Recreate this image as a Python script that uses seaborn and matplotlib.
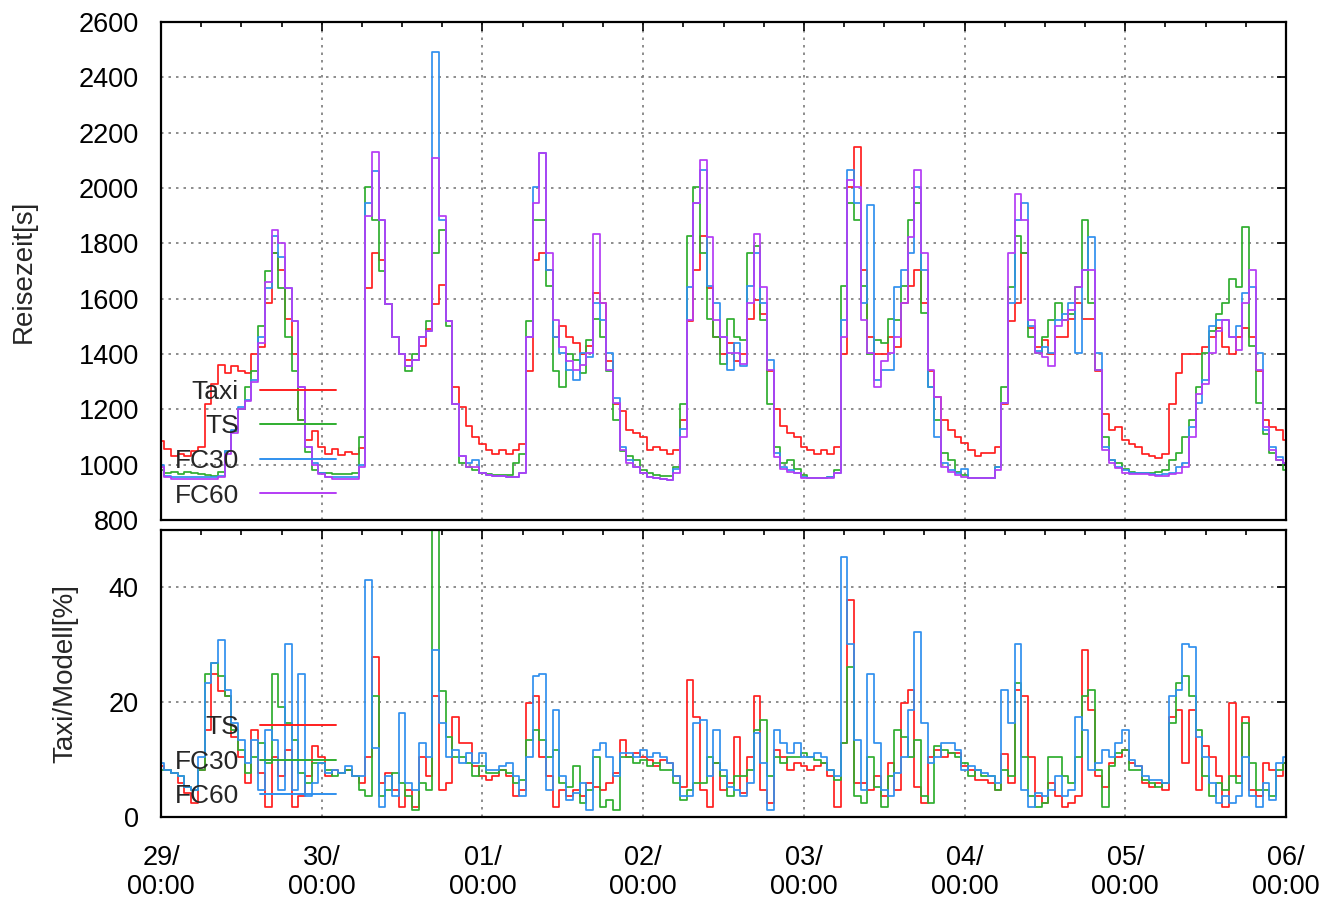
import matplotlib
matplotlib.use("Agg")
import matplotlib.pyplot as plt
import numpy as np
import pandas as pd
import seaborn as sns
from matplotlib.lines import Line2D
from matplotlib.ticker import MultipleLocator

# ---------------- data (hourly, 29/00:00 .. 06/00:00) ----------------
hours = list(range(169))
day_labels = ["29/", "30/", "01/", "02/", "03/", "04/", "05/", "06/"]
time_label = "00:00"

top_series = ["Taxi", "TS", "FC30", "FC60"]
bottom_series = ["TS", "FC30", "FC60"]

taxi = [1085, 1055, 1030, 1040, 1030, 1050, 1065, 1220, 1290, 1360, 1330, 1355, 1340, 1330, 1400, 1425, 1585, 1765, 1705, 1525, 1400, 1160, 1090, 1120,
        1065, 1040, 1055, 1035, 1045, 1040, 1060, 1640, 1765, 1740, 1580, 1460, 1400, 1380, 1380, 1430, 1490, 1580, 1650, 1520, 1280, 1210, 1140, 1100,
        1075, 1053, 1040, 1053, 1040, 1053, 1075, 1340, 1740, 1765, 1705, 1460, 1500, 1460, 1440, 1400, 1430, 1620, 1585, 1375, 1220, 1195, 1125, 1115,
        1100, 1053, 1065, 1053, 1040, 1053, 1160, 1520, 1705, 1825, 1640, 1460, 1400, 1440, 1375, 1400, 1525, 1595, 1545, 1340, 1200, 1140, 1115, 1100,
        1065, 1053, 1040, 1053, 1040, 1065, 1400, 2005, 2150, 1705, 1460, 1400, 1400, 1460, 1425, 1585, 1645, 1705, 1585, 1340, 1245, 1160, 1125, 1100,
        1077, 1053, 1030, 1041, 1041, 1065, 1220, 1520, 1585, 1765, 1495, 1425, 1450, 1400, 1460, 1460, 1525, 1585, 1525, 1525, 1340, 1185, 1125, 1137,
        1090, 1075, 1065, 1040, 1030, 1025, 1040, 1220, 1330, 1400, 1400, 1400, 1425, 1460, 1495, 1425, 1400, 1460, 1495, 1460, 1340, 1160, 1137, 1125,
        1090]

ts = [980, 970, 975, 965, 975, 970, 965, 963, 960, 975, 1050, 1120, 1200, 1280, 1340, 1500, 1700, 1765, 1640, 1460, 1340, 1160, 1045, 980,
      970, 970, 968, 965, 968, 970, 1100, 2005, 1885, 1700, 1580, 1460, 1400, 1340, 1400, 1460, 1520, 1765, 1850, 1500, 1220, 1005, 990, 980,
      970, 965, 963, 963, 963, 1005, 1040, 1520, 1885, 1885, 1645, 1340, 1280, 1400, 1380, 1330, 1450, 1525, 1460, 1340, 1160, 1050, 1030, 1017,
      980, 969, 963, 960, 960, 990, 1220, 1825, 2005, 1765, 1525, 1460, 1365, 1525, 1460, 1450, 1765, 1790, 1523, 1220, 1065, 1005, 1017, 985,
      963, 951, 951, 951, 957, 981, 1645, 1945, 1885, 1645, 1400, 1450, 1440, 1525, 1523, 1645, 1885, 1945, 1550, 1282, 1160, 1041, 1017, 975,
      963, 951, 951, 951, 951, 993, 1280, 1643, 1825, 1764, 1463, 1402, 1463, 1523, 1583, 1523, 1545, 1643, 1884, 1583, 1342, 1101, 1017, 1005,
      985, 975, 969, 969, 969, 975, 981, 1017, 1041, 1101, 1161, 1282, 1402, 1485, 1545, 1583, 1670, 1643, 1860, 1430, 1222, 1110, 1041, 1017,
      981]

fc30 = [1000, 960, 955, 955, 955, 955, 955, 955, 955, 960, 1050, 1125, 1210, 1235, 1305, 1460, 1640, 1825, 1750, 1640, 1520, 1280, 1065, 1005,
        970, 957, 955, 955, 955, 955, 1000, 1945, 2060, 1885, 1580, 1460, 1400, 1355, 1380, 1460, 1485, 2490, 1885, 1520, 1220, 1030, 1005, 1017,
        970, 963, 960, 960, 957, 957, 970, 1460, 2005, 2125, 1705, 1463, 1402, 1342, 1305, 1402, 1390, 1585, 1523, 1402, 1240, 1065, 1017, 993,
        969, 957, 951, 947, 945, 985, 1130, 1643, 1945, 2065, 1645, 1583, 1463, 1342, 1440, 1355, 1645, 1764, 1583, 1380, 1041, 993, 981, 969,
        957, 951, 951, 951, 957, 969, 1523, 2065, 1945, 1585, 1940, 1305, 1342, 1342, 1643, 1704, 1764, 2005, 1704, 1282, 1101, 1005, 981, 969,
        985, 951, 951, 951, 951, 993, 1222, 1583, 1884, 1945, 1500, 1410, 1425, 1402, 1523, 1545, 1583, 1402, 1704, 1824, 1402, 1065, 1017, 993,
        981, 969, 969, 969, 967, 963, 967, 969, 993, 1005, 1135, 1222, 1305, 1500, 1523, 1523, 1463, 1500, 1620, 1643, 1402, 1125, 1065, 1029,
        1005]

fc60 = [990, 955, 950, 950, 950, 950, 950, 950, 950, 955, 1040, 1115, 1200, 1230, 1300, 1440, 1660, 1850, 1800, 1640, 1520, 1280, 1065, 1000,
        965, 955, 950, 950, 950, 950, 990, 1900, 2130, 1885, 1580, 1460, 1400, 1355, 1380, 1460, 1485, 2110, 1900, 1520, 1220, 1030, 993, 990,
        969, 963, 960, 960, 957, 957, 969, 1463, 1945, 2125, 1764, 1523, 1425, 1375, 1342, 1360, 1402, 1835, 1583, 1342, 1222, 1053, 1005, 993,
        969, 957, 951, 947, 945, 969, 1101, 1523, 1945, 2100, 1824, 1523, 1463, 1402, 1402, 1365, 1583, 1835, 1643, 1342, 1029, 985, 975, 969,
        951, 951, 951, 951, 951, 969, 1463, 2030, 2005, 1523, 1402, 1282, 1375, 1402, 1463, 1583, 1824, 2065, 1764, 1342, 1245, 993, 975, 963,
        957, 951, 951, 951, 951, 981, 1222, 1764, 1980, 1884, 1523, 1402, 1390, 1355, 1500, 1523, 1560, 1643, 1704, 1704, 1342, 1053, 1005, 987,
        969, 967, 967, 965, 963, 960, 960, 965, 969, 993, 1101, 1255, 1290, 1402, 1485, 1523, 1463, 1415, 1583, 1704, 1342, 1135, 1053, 1017,
        1005]

ratio_ts = [8.8, 8.2, 7.6, 5.9, 4.1, 2.4, 8.2, 15.2, 25, 22, 21, 14, 10.5, 5.9, 15.2, 7.6, 1.8, 10.5, 7.1, 11.7, 1.8, 3.6, 7.1, 12.3,
            10.5, 7.1, 8.2, 7.6, 8.2, 7.1, 5.9, 10.5, 27.9, 5.9, 7.6, 4.7, 1.8, 4.7, 1.8, 10.5, 7.1, 21, 4.7, 5.9, 17.5, 12.9, 12.9, 8.8,
            7.1, 6.5, 7.1, 8.2, 7.1, 3.6, 4.7, 19.8, 21, 10.5, 7.1, 1.8, 4.7, 3.6, 4.7, 3.6, 5.9, 5.3, 4.7, 5.9, 7.6, 13.4, 10.5, 11.1,
            10.5, 10, 8.8, 10, 9.4, 7.1, 5.3, 23.9, 17.5, 4.7, 1.8, 9.4, 4.7, 5.9, 14, 4.1, 10.5, 21, 4.7, 2.4, 11.7, 10.5, 8.2, 9.4,
            8.8, 8.2, 8.8, 9.4, 7.1, 1.8, 12.9, 37.8, 5.9, 5.9, 4.7, 7.1, 3.6, 9.4, 4.7, 19.8, 22.1, 5.3, 2.4, 10.5, 11.7, 10.5, 11.1, 11.1,
            8.8, 8.2, 6.5, 6.5, 5.9, 4.7, 11, 5.9, 22.1, 21, 10.5, 3.6, 2.4, 5.9, 3.6, 1.8, 2.4, 3.6, 29.1, 18.6, 7.1, 5.3, 9.4, 10.5,
            11.7, 9.4, 8.8, 5.9, 5.3, 5.9, 4.7, 17.5, 18.6, 9.4, 18.6, 4.7, 12.3, 10.5, 7.1, 1.8, 19.8, 7.1, 17.5, 4.7, 3.6, 9.4, 8.2, 7.1,
            9.4]

ratio_fc30 = [8.2, 8.2, 7.6, 7.1, 5.3, 4.7, 8.2, 25, 26.8, 24.5, 21, 15.2, 11.7, 7.6, 10.5, 12.9, 9.4, 25, 19.2, 16.3, 13.4, 7.6, 5.9, 9.4,
              9.4, 8.2, 7.1, 7.6, 8.2, 7.1, 4.7, 3.6, 21, 3.6, 4.7, 7.6, 5.9, 3.6, 1.2, 5.9, 4.7, 52, 22, 14, 10.5, 10.5, 9.4, 7.1,
              8.8, 7.6, 7.6, 8.2, 7.6, 5.9, 6.5, 13.4, 15.2, 13.4, 10.5, 11.7, 5.9, 5.3, 8.8, 2.4, 4.7, 10.5, 1.8, 3, 1.2, 10.5, 10.5, 9.4,
              10, 8.8, 9.4, 8.2, 8.2, 5.9, 3, 4.7, 5.9, 5.9, 10.5, 9.4, 7.1, 3.6, 7.1, 7.1, 8.2, 15.2, 16.9, 7.1, 10.5, 9.4, 10.5, 10.5,
              11.1, 10.5, 10, 9.4, 8.2, 6.5, 12.9, 26.2, 3.6, 2.4, 10.5, 5.3, 1.8, 7.1, 15.2, 14, 10.5, 13.4, 3.6, 2.4, 12.3, 11.7, 11.1, 10.5,
              9.4, 7.1, 8.2, 7.1, 7.1, 4.7, 8.2, 7.1, 23.3, 10.5, 3.6, 1.8, 2.4, 10.5, 10.5, 7.1, 5.9, 10.5, 21, 22.1, 8.2, 1.8, 8.8, 11.1,
              11.7, 8.2, 8.2, 6.5, 5.9, 5.3, 5.9, 16.3, 23.3, 24.5, 21, 15.2, 7.1, 3.6, 5.9, 4.7, 7.1, 5.9, 16.3, 9.4, 4.7, 4.7, 3.6, 8.2,
              9.4]

ratio_fc60 = [9.4, 8.2, 7.6, 7.1, 5.3, 4.7, 10.5, 23.3, 26.8, 30.8, 22.1, 16.3, 13.4, 9.4, 13.4, 4.7, 15.2, 13.4, 4.7, 30.2, 4.7, 25, 3.6, 5.9,
              9.4, 7.6, 8.2, 7.6, 8.8, 7.1, 7.1, 41.3, 12, 1.8, 7.1, 3.6, 18.1, 5.9, 4.7, 12.9, 10.5, 29.1, 16.3, 10.5, 11.7, 9.4, 11.1, 9.4,
              11.1, 8.2, 8.2, 8.8, 9.4, 7.1, 3.6, 10.5, 24.5, 25, 4.7, 18.6, 7.1, 3, 4.1, 5.9, 1.2, 11.7, 12.9, 10.5, 7.1, 11.1, 11.1, 10.5,
              11.7, 10.5, 11.1, 10.5, 9.4, 7.1, 3.6, 3.6, 16.3, 16.9, 7.1, 15.2, 8.2, 5.3, 4.7, 3.6, 5.9, 14.6, 9.4, 1.2, 15.2, 12.9, 11.1, 12.9,
              10.5, 10.5, 11.1, 10.5, 8.2, 7.1, 45.3, 30.2, 13.4, 4.7, 25, 12.9, 4.7, 3.6, 7.6, 10.5, 18.6, 32.3, 16.3, 9.4, 10.5, 12.9, 12.9, 11.7,
              8.2, 8.8, 8.2, 7.6, 7.1, 5.9, 22.1, 16.3, 30.2, 4.7, 1.8, 4.1, 3.6, 4.7, 7.1, 3.6, 4.7, 17.5, 15.2, 8.2, 9.4, 11.7, 10.5, 12.9,
              15.2, 10, 8.8, 7.1, 6.5, 6.5, 5.9, 21, 22.1, 30.2, 29.7, 14, 10.5, 5.9, 2.4, 3.6, 2.4, 3.6, 10.5, 3.6, 1.8, 5.9, 3, 9.4,
              10.5]

top_colors = {"Taxi": "#ff1f1f", "TS": "#2fae2f", "FC30": "#3090ee", "FC60": "#b43cf5"}
bottom_colors = {"TS": "#ff1f1f", "FC30": "#2fae2f", "FC60": "#3090ee"}

# ---------------- figure ----------------
sns.set_theme(style="white")
plt.rcParams['font.family'] = ['Liberation Sans', 'DejaVu Sans']

fig = plt.figure(figsize=(13.21, 8.98), dpi=100)
ax1 = fig.add_axes([0.1219, 0.4209, 0.8516, 0.5546])
ax2 = fig.add_axes([0.1219, 0.0902, 0.8516, 0.3196])

top_df = pd.DataFrame({
    "Stunde": hours * 4,
    "Reisezeit": taxi + ts + fc30 + fc60,
    "Serie": [s for s in top_series for _ in hours],
})
bottom_df = pd.DataFrame({
    "Stunde": hours * 3,
    "Abweichung": ratio_ts + ratio_fc30 + ratio_fc60,
    "Serie": [s for s in bottom_series for _ in hours],
})

sns.lineplot(data=top_df, x="Stunde", y="Reisezeit", hue="Serie", hue_order=top_series,
             palette=top_colors, estimator=None, legend=False, ax=ax1,
             linewidth=1.25, drawstyle="steps-mid")
sns.lineplot(data=bottom_df, x="Stunde", y="Abweichung", hue="Serie", hue_order=bottom_series,
             palette=bottom_colors, estimator=None, legend=False, ax=ax2,
             linewidth=1.25, drawstyle="steps-mid")

xticks = [24 * i for i in range(len(day_labels))]
for ax in (ax1, ax2):
    ax.set_xlim(0, 168)
    ax.set_xticks(xticks)
    ax.xaxis.set_minor_locator(MultipleLocator(6))
    ax.grid(True, which="major", color="#7a7a7a", linestyle=(0, (1.5, 3)), linewidth=1.2)
    ax.tick_params(axis="both", which="both", direction="in", top=True, right=True,
                   colors="black", width=1.2)
    ax.tick_params(axis="both", which="major", length=6.5)
    ax.tick_params(axis="both", which="minor", length=3.6)
    ax.tick_params(axis="y", labelsize=19.5, pad=16)
    for sp in ax.spines.values():
        sp.set_color("black")
        sp.set_linewidth(1.6)
    ax.set_xlabel("")

ax1.set_ylim(800, 2600)
ax1.set_yticks(list(range(800, 2601, 200)))
ax1.set_xticklabels([])
ax1.set_ylabel("Reisezeit[s]", fontsize=20, labelpad=30)

ax2.set_ylim(0, 50)
ax2.set_yticks([0, 20, 40])
ax2.set_xticklabels([d + "\n" + time_label for d in day_labels], fontsize=19.5, linespacing=1.15)
ax2.tick_params(axis="x", pad=20)
ax2.set_ylabel("Taxi/Modell[%]", fontsize=20, labelpad=22)

def gp_legend(ax, names, colors, anchor):
    handles = [Line2D([], [], color=colors[n], linewidth=1.4) for n in names]
    leg = ax.legend(handles, names, loc="lower left", bbox_to_anchor=anchor,
                    markerfirst=False, frameon=False, fontsize=19,
                    handlelength=2.9, handletextpad=0.8, labelspacing=0.4,
                    borderpad=0.0, borderaxespad=0.0)
    return leg

gp_legend(ax1, top_series, top_colors, (0.012, 0.025))
gp_legend(ax2, bottom_series, bottom_colors, (0.012, 0.03))

fig.savefig("out.png", dpi=100)
